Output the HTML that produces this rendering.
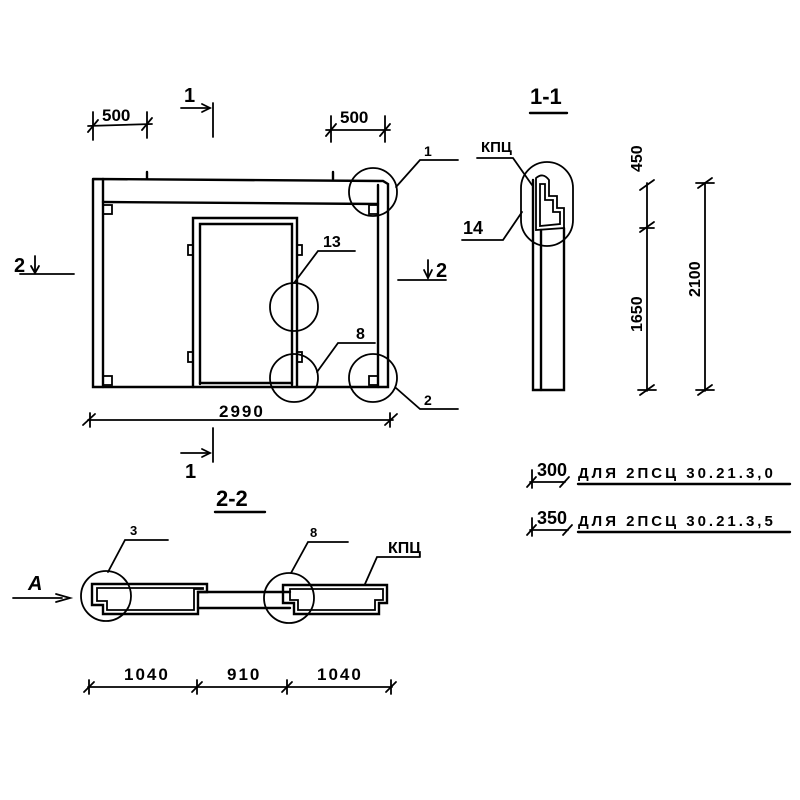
<!DOCTYPE html>
<html><head><meta charset="utf-8"><style>
html,body{margin:0;padding:0;background:#fff;}
svg{display:block}
text{font-family:"Liberation Sans Narrow","Liberation Sans","DejaVu Sans",sans-serif;font-weight:bold;fill:#000}
</style></head><body>
<svg width="800" height="800" viewBox="0 0 800 800" xmlns="http://www.w3.org/2000/svg">
<g stroke="#000" stroke-width="2.4" fill="none" stroke-linecap="round">
<polyline points="93,179 383,181 388,184 388,387 93,387 93,179"/>
<line x1="103" y1="179" x2="103" y2="387"/>
<line x1="103" y1="202" x2="378" y2="204"/>
<line x1="378" y1="185" x2="378" y2="387"/>
<polyline points="193,387 193,218 297,218 297,387"/>
<polyline points="200,384 200,224 292,224 292,385"/>
<line x1="200" y1="383" x2="292" y2="383"/>
<g stroke-width="1.8">
<rect x="103" y="205" width="9" height="9"/><rect x="103" y="376" width="9" height="9"/>
<rect x="369" y="205" width="9" height="9"/><rect x="369" y="376" width="9" height="9"/>
<rect x="188" y="245" width="5" height="10"/><rect x="188" y="352" width="5" height="10"/>
<rect x="297" y="245" width="5" height="10"/><rect x="297" y="352" width="5" height="10"/>
</g>
<line x1="147" y1="172" x2="147" y2="179"/><line x1="333" y1="172" x2="333" y2="179"/>
<g stroke-width="1.8">
<circle cx="373" cy="192" r="24"/><circle cx="294" cy="307" r="24"/>
<circle cx="294" cy="378" r="24"/><circle cx="373" cy="378" r="24"/>
<polyline points="396,187 420,160 458,160"/>
<polyline points="294,283 318,251 355,251"/>
<polyline points="317,372 338,343 375,343"/>
<polyline points="396,388 420,409 458,409"/>
</g>
<g stroke-width="1.8">
<line x1="88" y1="126" x2="152" y2="124"/><line x1="93" y1="112" x2="93" y2="140"/><line x1="147" y1="112" x2="147" y2="138"/>
<line x1="88" y1="132" x2="98" y2="120"/><line x1="142" y1="130" x2="152" y2="118"/>
<line x1="326" y1="130" x2="390" y2="130"/><line x1="331" y1="116" x2="331" y2="142"/><line x1="385" y1="116" x2="385" y2="142"/>
<line x1="326" y1="136" x2="336" y2="124"/><line x1="380" y1="136" x2="390" y2="124"/>
<line x1="213" y1="103" x2="213" y2="137"/><line x1="181" y1="108" x2="210" y2="108"/>
<polyline points="202,104 210,108 202,112"/>
<line x1="213" y1="428" x2="213" y2="462"/><line x1="181" y1="453" x2="210" y2="453"/>
<polyline points="202,449 210,453 202,457"/>
<line x1="88" y1="420" x2="393" y2="420"/><line x1="83" y1="425" x2="95" y2="414"/><line x1="385" y1="425" x2="397" y2="414"/>
<line x1="90" y1="413" x2="90" y2="427"/><line x1="390" y1="413" x2="390" y2="427"/>
<line x1="20" y1="274" x2="74" y2="274"/><line x1="35" y1="256" x2="35" y2="272"/><polyline points="31,266 35,273 39,266"/>
<line x1="398" y1="280" x2="446" y2="280"/><line x1="428" y1="260" x2="428" y2="278"/><polyline points="424,270 428,278 432,270"/>
</g>
<line x1="530" y1="113" x2="567" y2="113"/>
<rect x="521" y="162" width="52" height="84" rx="26" stroke-width="1.8"/>
<polyline points="533,180 533,390 564,390 564,228"/>
<line x1="541" y1="230" x2="541" y2="390"/>
<path d="M536,178 L536,230 L564,228 L564,208 L557,208 L557,196 L549,196 L549,180 Q543,172 536,178" stroke-width="1.8"/>
<path d="M540,184 L540,226 L560,224 L560,212 L553,212 L553,200 L545,200 L545,184 Z" stroke-width="1.8"/>
<g stroke-width="1.8">
<polyline points="477,158 513,158 532,185"/>
<polyline points="462,240 503,240 522,212"/>
<line x1="647" y1="183" x2="647" y2="391"/>
<line x1="640" y1="190" x2="654" y2="180"/><line x1="640" y1="232" x2="654" y2="222"/><line x1="640" y1="395" x2="654" y2="385"/>
<line x1="640" y1="228" x2="654" y2="228"/><line x1="638" y1="390" x2="656" y2="390"/>
<line x1="705" y1="183" x2="705" y2="391"/>
<line x1="698" y1="188" x2="712" y2="178"/><line x1="698" y1="395" x2="712" y2="385"/>
<line x1="696" y1="183" x2="714" y2="183"/><line x1="696" y1="390" x2="714" y2="390"/>
<line x1="530" y1="482" x2="565" y2="482"/><line x1="527" y1="487" x2="536" y2="477"/><line x1="560" y1="487" x2="569" y2="477"/><line x1="532" y1="470" x2="532" y2="488"/>
<line x1="530" y1="530" x2="568" y2="530"/><line x1="527" y1="535" x2="536" y2="525"/><line x1="563" y1="535" x2="572" y2="525"/><line x1="532" y1="518" x2="532" y2="536"/>
</g>
<line x1="578" y1="484" x2="790" y2="484"/>
<line x1="578" y1="532" x2="790" y2="532"/>
<line x1="215" y1="512" x2="265" y2="512"/>
<polygon points="92,584 207,584 207,592 198,592 198,614 103,614 103,605 92,605"/>
<polygon points="97,588 203,588 203,589 194,589 194,610 107,610 107,601 97,601" stroke-width="1.8"/>
<line x1="198" y1="592" x2="290" y2="592"/><line x1="198" y1="608" x2="290" y2="608"/>
<polygon points="283,585 387,585 387,603 379,603 379,614 294,614 294,603 283,603"/>
<polygon points="290,589 383,589 383,600 375,600 375,610 298,610 298,600 290,600" stroke-width="1.8"/>
<g stroke-width="1.8">
<circle cx="106" cy="596" r="25"/><circle cx="289" cy="598" r="25"/>
<polyline points="108,572 125,540 168,540"/>
<polyline points="291,573 308,542 348,542"/>
<polyline points="365,584 377,557 420,557"/>
<line x1="13" y1="598" x2="62" y2="598"/><polyline points="56,594 70,598 56,602"/>
<line x1="88" y1="687" x2="392" y2="687"/>
<line x1="84" y1="692" x2="94" y2="682"/><line x1="192" y1="692" x2="202" y2="682"/><line x1="282" y1="692" x2="292" y2="682"/><line x1="386" y1="692" x2="396" y2="682"/>
<line x1="89" y1="680" x2="89" y2="694"/><line x1="197" y1="680" x2="197" y2="694"/><line x1="287" y1="680" x2="287" y2="694"/><line x1="391" y1="680" x2="391" y2="694"/>
</g>
</g>
<text x="102" y="121" font-size="17">500</text>
<text x="340" y="123" font-size="17">500</text>
<text x="184" y="102" font-size="20">1</text>
<text x="185" y="478" font-size="20">1</text>
<text x="14" y="272" font-size="20">2</text>
<text x="436" y="277" font-size="20">2</text>
<text x="424" y="156" font-size="14">1</text>
<text x="323" y="247" font-size="16">13</text>
<text x="356" y="339" font-size="16">8</text>
<text x="424" y="405" font-size="14">2</text>
<text x="219" y="417" font-size="17" letter-spacing="2">2990</text>
<text x="530" y="104" font-size="22">1-1</text>
<text x="481" y="152" font-size="15">КПЦ</text>
<text x="463" y="234" font-size="18">14</text>
<text transform="translate(642,172) rotate(-90)" font-size="16">450</text>
<text transform="translate(642,332) rotate(-90)" font-size="16">1650</text>
<text transform="translate(700,297) rotate(-90)" font-size="16">2100</text>
<text x="537" y="476" font-size="18">300</text>
<text x="578" y="478" font-size="15" letter-spacing="3">ДЛЯ 2ПСЦ  30.21.3,0</text>
<text x="537" y="524" font-size="18">350</text>
<text x="578" y="526" font-size="15" letter-spacing="3">ДЛЯ 2ПСЦ  30.21.3,5</text>
<text x="216" y="506" font-size="22">2-2</text>
<text x="130" y="535" font-size="13">3</text>
<text x="310" y="537" font-size="13">8</text>
<text x="388" y="553" font-size="16">КПЦ</text>
<text x="28" y="590" font-size="20" font-style="italic" font-weight="normal">А</text>
<text x="124" y="680" font-size="17" letter-spacing="2">1040</text>
<text x="227" y="680" font-size="17" letter-spacing="2">910</text>
<text x="317" y="680" font-size="17" letter-spacing="2">1040</text>
</svg>
</body></html>
